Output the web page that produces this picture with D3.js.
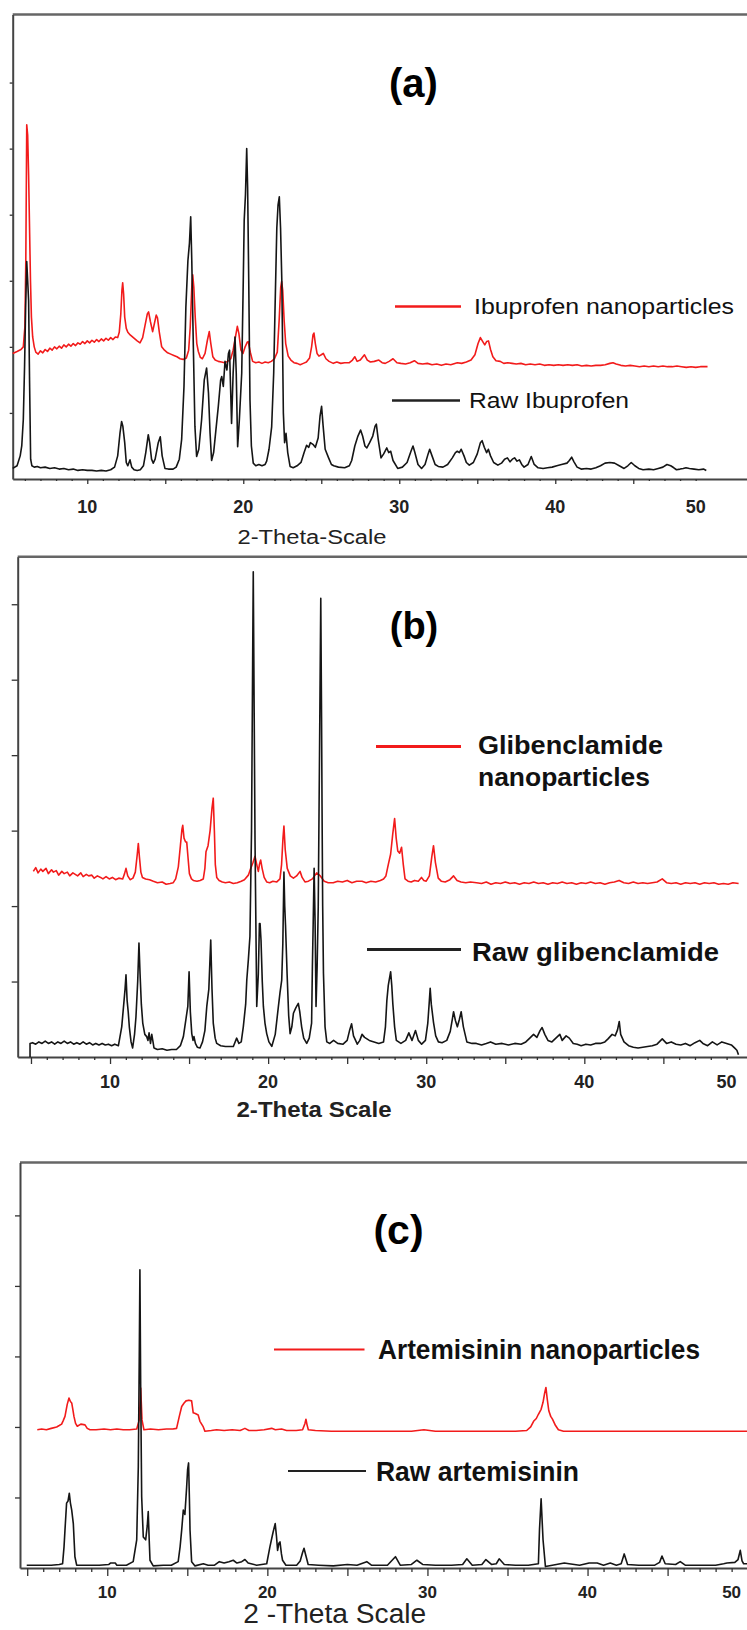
<!DOCTYPE html>
<html>
<head>
<meta charset="utf-8">
<script src="https://cdn.jsdelivr.net/npm/d3@7"></script>
<style>
  body { margin: 0; background: #fff; }
  svg { display: block; }
</style>
</head>
<body>
<div id="chart"></div>
<script>
// ---- data: [2-theta, intensity] (intensity in y-tick units, 100 per tick) ----
var ibuNano = [[5.22,190],[5.5,193],[5.75,196],[5.9,200],[6.0,230],[6.06,330],[6.12,536],[6.18,520],[6.24,460],[6.3,380],[6.36,300],[6.42,245],[6.5,215],[6.6,200],[6.7,192],[6.85,189],[7.0,194],[7.15,191],[7.3,196],[7.45,193],[7.6,198],[7.75,195],[7.9,200],[8.05,197],[8.2,201],[8.35,198],[8.5,203],[8.65,200],[8.8,204],[8.95,201],[9.1,205],[9.25,202],[9.4,206],[9.55,204],[9.7,208],[9.85,205],[10.0,209],[10.15,206],[10.3,210],[10.45,207],[10.6,211],[10.75,208],[10.9,212],[11.05,209],[11.2,213],[11.35,210],[11.5,214],[11.65,211],[11.8,215],[11.95,214],[12.05,222],[12.15,250],[12.22,285],[12.27,297],[12.33,280],[12.4,245],[12.5,228],[12.6,222],[12.75,218],[12.9,215],[13.05,212],[13.2,209],[13.38,206],[13.55,214],[13.7,232],[13.85,250],[13.93,253],[14.05,238],[14.19,223],[14.3,235],[14.42,248],[14.5,244],[14.62,222],[14.77,200],[14.95,195],[15.15,191],[15.35,189],[15.55,187],[15.75,185],[15.95,182],[16.15,181],[16.35,183],[16.5,195],[16.6,230],[16.7,290],[16.76,309],[16.83,290],[16.92,245],[17.02,205],[17.12,193],[17.25,184],[17.38,182],[17.55,190],[17.7,210],[17.82,223],[17.92,205],[18.05,185],[18.2,180],[18.4,178],[18.6,177],[18.8,176],[19.0,178],[19.2,182],[19.35,195],[19.5,215],[19.62,231],[19.72,220],[19.85,195],[19.98,190],[20.12,200],[20.25,207],[20.32,208],[20.45,192],[20.6,178],[20.8,176],[21.0,177],[21.2,175],[21.4,177],[21.6,176],[21.8,178],[22.0,182],[22.18,192],[22.3,240],[22.4,290],[22.46,299],[22.53,285],[22.62,240],[22.72,205],[22.88,186],[23.05,180],[23.25,176],[23.45,175],[23.65,173],[23.85,175],[24.05,177],[24.25,183],[24.38,200],[24.47,218],[24.53,221],[24.62,205],[24.73,190],[24.85,186],[25.0,188],[25.13,190],[25.3,182],[25.5,178],[25.77,175],[26.0,177],[26.25,175],[26.5,176],[26.8,176],[27.0,180],[27.15,185],[27.3,178],[27.5,180],[27.77,188],[27.95,180],[28.15,177],[28.4,178],[28.69,180],[28.9,176],[29.1,175],[29.35,178],[29.6,182],[29.85,176],[30.1,175],[30.4,174],[30.7,176],[30.97,179],[31.2,175],[31.5,174],[31.8,175],[32.1,173],[32.4,174],[32.7,172],[33.0,174],[33.3,173],[33.72,176],[34.0,175],[34.3,177],[34.6,180],[34.85,188],[35.05,205],[35.2,214],[35.35,208],[35.48,203],[35.6,208],[35.72,209],[35.85,196],[36.0,185],[36.2,179],[36.47,178],[36.7,175],[36.95,176],[37.23,175],[37.5,174],[37.8,175],[38.1,173],[38.4,174],[38.7,173],[39.0,174],[39.3,172],[39.6,173],[39.9,172],[40.2,173],[40.5,172],[40.8,173],[41.1,172],[41.4,173],[41.7,171],[42.0,172],[42.3,171],[42.6,172],[42.9,172],[43.2,173],[43.5,175],[43.7,176],[43.9,174],[44.2,172],[44.5,171],[44.8,172],[45.1,171],[45.4,170],[45.7,171],[46.0,170],[46.3,171],[46.6,170],[46.9,171],[47.2,170],[47.5,170],[47.8,171],[48.1,170],[48.4,169],[48.7,170],[49.0,169],[49.3,170],[49.76,170]];

var ibuRaw = [[5.22,16],[5.5,20],[5.7,35],[5.8,50],[5.9,90],[5.98,170],[6.05,260],[6.12,329],[6.18,300],[6.24,270],[6.3,150],[6.37,30],[6.45,20],[6.6,18],[6.8,19],[7.0,17],[7.3,18],[7.6,16],[7.9,17],[8.2,15],[8.5,16],[8.8,14],[9.1,15],[9.4,13],[9.7,14],[10.0,13],[10.3,13],[10.6,12],[10.9,13],[11.2,12],[11.5,14],[11.75,18],[11.95,35],[12.1,70],[12.2,87],[12.28,80],[12.4,55],[12.5,25],[12.6,20],[12.74,29],[12.85,18],[13.0,14],[13.2,13],[13.4,14],[13.6,20],[13.75,40],[13.91,67],[14.0,55],[14.12,30],[14.23,24],[14.35,30],[14.55,55],[14.68,64],[14.8,35],[14.98,16],[15.2,15],[15.5,15],[15.7,18],[15.9,30],[16.05,60],[16.2,140],[16.32,260],[16.45,330],[16.55,357],[16.63,397],[16.7,330],[16.8,200],[16.9,80],[17.01,34],[17.15,45],[17.33,90],[17.5,150],[17.65,168],[17.77,130],[17.87,70],[17.97,28],[18.1,40],[18.25,75],[18.4,110],[18.55,150],[18.62,155],[18.72,140],[18.83,178],[18.95,165],[19.05,190],[19.12,195],[19.25,84],[19.35,160],[19.47,215],[19.55,160],[19.64,49],[19.75,90],[19.9,160],[20.0,300],[20.06,392],[20.14,430],[20.22,500],[20.28,440],[20.35,301],[20.43,120],[20.52,50],[20.64,24],[20.8,20],[21.0,22],[21.2,20],[21.4,22],[21.5,27],[21.65,45],[21.82,79],[21.95,160],[22.03,251],[22.15,380],[22.23,415],[22.31,427],[22.39,380],[22.47,301],[22.57,100],[22.65,55],[22.74,69],[22.85,40],[23.0,19],[23.2,17],[23.45,20],[23.7,25],[23.9,40],[24.06,51],[24.2,48],[24.3,55],[24.49,52],[24.62,48],[24.8,62],[24.92,95],[25.02,110],[25.12,80],[25.25,45],[25.47,32],[25.65,22],[25.8,20],[26.1,18],[26.5,17],[26.8,20],[26.95,28],[27.15,50],[27.35,65],[27.52,74],[27.65,65],[27.8,50],[27.92,47],[28.1,55],[28.3,65],[28.45,80],[28.53,83],[28.65,60],[28.83,32],[29.0,38],[29.2,47],[29.32,40],[29.45,42],[29.6,28],[29.9,16],[30.2,18],[30.5,25],[30.75,42],[30.88,50],[31.0,40],[31.2,22],[31.43,16],[31.65,22],[31.85,38],[31.95,45],[32.1,35],[32.3,22],[32.5,19],[32.8,18],[33.1,22],[33.4,32],[33.6,40],[33.72,42],[33.85,40],[33.97,45],[34.15,35],[34.3,25],[34.49,21],[34.75,25],[35.0,38],[35.2,55],[35.31,58],[35.45,48],[35.6,40],[35.71,45],[35.85,35],[36.05,25],[36.32,21],[36.55,24],[36.75,30],[36.93,32],[37.1,26],[37.25,30],[37.39,32],[37.55,27],[37.7,29],[37.85,22],[38.0,18],[38.25,22],[38.46,34],[38.65,22],[38.9,17],[39.22,16],[39.5,17],[39.8,18],[40.1,20],[40.4,22],[40.75,24],[40.9,28],[41.05,33],[41.2,26],[41.4,18],[41.66,15],[42.0,16],[42.3,15],[42.6,17],[42.9,20],[43.19,24],[43.5,25],[43.8,24],[44.1,20],[44.41,16],[44.65,20],[44.87,25],[45.1,20],[45.35,16],[45.63,14],[46.0,15],[46.3,14],[46.6,16],[46.9,18],[47.16,22],[47.4,20],[47.6,17],[47.77,14],[48.0,15],[48.2,16],[48.38,17],[48.6,16],[48.9,15],[49.2,14],[49.5,15],[49.68,13]];

var gliNano = [[5.15,246],[5.3,251],[5.45,244],[5.62,249],[5.75,246],[5.95,250],[6.1,243],[6.3,248],[6.42,245],[6.6,247],[6.75,241],[6.95,246],[7.1,243],[7.3,245],[7.45,240],[7.65,244],[7.8,242],[7.95,240],[8.15,244],[8.3,239],[8.5,242],[8.65,240],[8.85,241],[9.0,237],[9.2,240],[9.4,238],[9.55,236],[9.75,239],[9.95,236],[10.15,238],[10.35,235],[10.55,237],[10.8,236],[10.92,243],[11.01,250],[11.12,240],[11.27,235],[11.45,237],[11.6,245],[11.72,268],[11.79,283],[11.86,265],[11.95,245],[12.05,238],[12.25,236],[12.5,235],[12.74,233],[13.0,231],[13.3,232],[13.55,229],[13.8,230],[14.0,231],[14.15,236],[14.32,252],[14.45,280],[14.55,302],[14.6,307],[14.68,290],[14.78,285],[14.85,285],[14.93,265],[15.02,243],[15.15,236],[15.27,234],[15.5,233],[15.7,234],[15.9,236],[16.0,250],[16.07,272],[16.2,280],[16.33,300],[16.45,330],[16.53,343],[16.6,300],[16.66,255],[16.75,238],[16.9,234],[17.1,232],[17.3,231],[17.55,232],[17.8,230],[18.05,231],[18.3,233],[18.5,235],[18.75,241],[18.9,250],[19.05,258],[19.17,266],[19.28,255],[19.38,246],[19.45,255],[19.53,261],[19.62,250],[19.75,238],[19.91,232],[20.1,231],[20.3,233],[20.55,232],[20.75,236],[20.85,255],[20.94,290],[21.0,306],[21.08,275],[21.21,250],[21.4,240],[21.6,237],[21.8,240],[22.02,246],[22.15,238],[22.33,232],[22.55,233],[22.8,236],[23.07,244],[23.3,240],[23.55,233],[23.8,231],[24.12,231],[24.4,233],[24.7,232],[25.0,234],[25.3,231],[25.6,233],[25.94,233],[26.2,231],[26.5,233],[26.8,232],[27.1,234],[27.3,236],[27.45,240],[27.6,255],[27.75,269],[27.88,295],[28.0,316],[28.1,290],[28.2,273],[28.32,270],[28.44,278],[28.55,255],[28.66,236],[28.85,233],[29.05,232],[29.26,234],[29.5,233],[29.7,238],[29.85,234],[30.0,233],[30.2,240],[30.35,265],[30.46,280],[30.58,258],[30.76,237],[30.95,233],[31.2,232],[31.5,235],[31.73,240],[31.95,234],[32.2,232],[32.5,231],[32.8,232],[33.18,231],[33.5,230],[33.8,232],[34.1,229],[34.4,231],[34.7,230],[35.0,232],[35.3,230],[35.6,231],[35.9,229],[36.2,231],[36.5,230],[36.8,232],[37.1,230],[37.4,231],[37.7,229],[38.0,231],[38.3,230],[38.6,232],[38.9,230],[39.2,231],[39.5,229],[39.8,231],[40.1,230],[40.4,232],[40.7,230],[41.0,231],[41.3,229],[41.6,231],[41.9,232],[42.2,234],[42.5,231],[42.8,230],[43.1,232],[43.4,230],[43.7,231],[44.0,230],[44.3,231],[44.6,232],[44.93,236],[45.2,231],[45.5,230],[45.8,231],[46.1,229],[46.4,231],[46.7,230],[47.0,231],[47.3,229],[47.6,231],[47.9,230],[48.2,231],[48.5,229],[48.8,230],[49.1,229],[49.4,231],[49.76,230]];

var gliRaw = [[4.94,0],[4.94,18],[5.1,19],[5.3,17],[5.5,20],[5.7,18],[5.9,21],[6.1,18],[6.3,20],[6.5,17],[6.7,20],[6.9,18],[7.1,21],[7.3,18],[7.5,20],[7.7,17],[7.9,19],[8.1,17],[8.3,20],[8.5,17],[8.7,19],[8.9,16],[9.1,18],[9.3,16],[9.5,18],[9.7,16],[9.9,17],[10.1,15],[10.3,17],[10.53,15],[10.74,40],[10.88,73],[10.95,90],[11.01,109],[11.08,75],[11.15,60],[11.22,40],[11.33,20],[11.43,12],[11.55,30],[11.64,53],[11.75,100],[11.83,151],[11.9,110],[11.98,70],[12.07,45],[12.2,30],[12.32,27],[12.4,22],[12.47,32],[12.56,18],[12.64,30],[12.72,20],[12.78,12],[13.0,10],[13.3,11],[13.6,9],[13.9,10],[14.2,10],[14.45,15],[14.64,27],[14.8,50],[14.92,67],[15.0,113],[15.08,60],[15.17,31],[15.25,22],[15.31,27],[15.4,18],[15.52,13],[15.69,12],[15.85,20],[16.0,35],[16.12,67],[16.25,90],[16.37,155],[16.45,90],[16.53,45],[16.65,25],[16.75,18],[17.0,15],[17.3,14],[17.6,14],[17.8,14],[18.01,25],[18.15,18],[18.3,20],[18.43,40],[18.58,70],[18.65,102],[18.75,129],[18.85,160],[18.95,300],[19.02,520],[19.06,643],[19.12,450],[19.17,288],[19.28,67],[19.38,110],[19.45,177],[19.49,177],[19.55,155],[19.63,100],[19.7,67],[19.8,45],[19.91,31],[20.05,20],[20.23,14],[20.45,30],[20.65,67],[20.75,85],[20.86,102],[20.93,150],[21.0,245],[21.05,200],[21.1,175],[21.2,110],[21.3,55],[21.39,31],[21.5,40],[21.6,58],[21.75,65],[21.91,71],[22.0,60],[22.12,40],[22.25,25],[22.44,18],[22.6,25],[22.75,45],[22.8,120],[22.85,177],[22.91,250],[22.97,180],[23.03,67],[23.1,120],[23.17,199],[23.25,400],[23.33,608],[23.38,450],[23.41,332],[23.45,200],[23.5,111],[23.6,40],[23.71,20],[23.9,18],[24.14,22],[24.4,18],[24.74,17],[25.0,22],[25.15,35],[25.28,44],[25.4,28],[25.64,17],[25.8,22],[25.94,30],[26.1,26],[26.4,22],[26.7,20],[27.0,18],[27.3,20],[27.42,40],[27.51,75],[27.6,95],[27.75,113],[27.82,95],[27.89,70],[28.0,40],[28.11,22],[28.4,18],[28.7,22],[28.9,32],[29.1,22],[29.32,35],[29.5,22],[29.71,17],[29.95,22],[30.1,45],[30.2,75],[30.25,91],[30.32,70],[30.46,46],[30.6,28],[30.77,20],[31.0,19],[31.3,22],[31.52,34],[31.65,50],[31.73,60],[31.85,48],[31.97,40],[32.1,50],[32.21,60],[32.35,40],[32.57,20],[32.9,18],[33.17,18],[33.5,16],[33.8,18],[34.07,20],[34.4,17],[34.8,18],[35.2,16],[35.6,18],[36.0,17],[36.3,20],[36.55,25],[36.79,30],[37.0,26],[37.2,35],[37.33,39],[37.5,30],[37.7,22],[37.95,20],[38.2,25],[38.45,30],[38.6,22],[38.85,28],[39.05,25],[39.3,18],[39.55,17],[39.8,15],[40.1,17],[40.4,16],[40.7,18],[41.01,18],[41.3,20],[41.5,24],[41.76,30],[41.95,28],[42.1,36],[42.21,47],[42.3,30],[42.51,20],[42.8,15],[43.1,13],[43.4,12],[43.7,13],[44.0,14],[44.3,15],[44.6,17],[44.93,24],[45.2,18],[45.5,20],[45.8,17],[46.1,16],[46.4,18],[46.7,15],[47.0,19],[47.3,22],[47.5,18],[47.8,15],[48.1,20],[48.4,16],[48.7,20],[49.0,18],[49.3,16],[49.5,12],[49.65,9],[49.75,3]];

var artNano = [[5.63,196],[5.9,197],[6.2,196],[6.5,198],[6.84,200],[7.0,202],[7.15,204],[7.25,209],[7.36,215],[7.5,232],[7.61,241],[7.7,236],[7.78,234],[7.85,225],[7.92,215],[8.02,205],[8.13,201],[8.35,204],[8.61,203],[8.75,198],[8.92,196],[9.3,196],[9.8,197],[10.2,196],[10.6,197],[11.0,196],[11.4,196],[11.84,197],[12.0,210],[12.09,255],[12.17,210],[12.29,196],[12.7,197],[13.2,196],[13.7,197],[14.1,197],[14.33,198],[14.5,215],[14.65,229],[14.8,234],[14.92,237],[15.1,238],[15.27,237],[15.37,220],[15.5,219],[15.68,217],[15.79,208],[16.0,200],[16.1,194],[16.5,195],[16.83,196],[17.3,195],[17.8,196],[18.3,195],[18.6,198],[18.85,195],[19.3,195],[19.8,196],[20.27,198],[20.5,196],[20.89,197],[21.2,195],[21.8,195],[22.2,196],[22.35,205],[22.41,211],[22.48,203],[22.56,196],[23.0,195],[24.0,194],[25.0,194],[26.0,194],[27.0,194],[28.0,194],[29.0,194],[29.78,196],[30.5,194],[31.5,194],[32.5,194],[33.5,194],[34.5,194],[35.5,194],[36.2,195],[36.45,200],[36.63,208],[36.8,212],[36.93,218],[37.1,225],[37.22,235],[37.32,248],[37.4,256],[37.48,240],[37.58,223],[37.7,215],[37.81,211],[38.0,202],[38.18,196],[38.5,194],[39.5,194],[40.5,194],[41.5,194],[42.5,194],[43.5,194],[44.5,194],[45.5,194],[46.5,194],[47.5,194],[48.5,194],[49.5,194],[50.0,194]];

var artRaw = [[4.97,4],[5.5,4],[6.0,4],[6.5,4],[7.0,5],[7.21,6],[7.3,30],[7.36,54],[7.46,92],[7.55,95],[7.63,106],[7.7,92],[7.78,82],[7.88,63],[7.98,16],[8.09,4],[8.5,4],[9.0,4],[9.5,4],[10.1,5],[10.2,7],[10.5,7],[10.6,4],[11.2,4],[11.62,9],[11.84,40],[11.94,144],[12.0,300],[12.04,423],[12.09,250],[12.15,101],[12.25,44],[12.4,40],[12.5,60],[12.56,80],[12.62,40],[12.67,11],[12.87,3],[13.5,4],[14.0,4],[14.43,9],[14.55,30],[14.65,54],[14.75,82],[14.85,76],[14.96,115],[15.02,140],[15.08,149],[15.13,100],[15.17,54],[15.27,9],[15.48,3],[16.0,6],[16.3,4],[16.7,4],[17.0,9],[17.3,7],[17.6,9],[17.87,11],[18.1,7],[18.4,9],[18.6,12],[18.8,7],[19.33,4],[19.96,6],[20.16,30],[20.35,50],[20.49,63],[20.57,45],[20.64,25],[20.72,35],[20.79,37],[20.88,20],[20.95,11],[21.16,4],[21.83,4],[22.05,10],[22.2,22],[22.29,28],[22.4,18],[22.55,5],[23.2,4],[24.12,3],[25.0,5],[25.6,4],[26.21,9],[26.5,4],[27.5,4],[28.0,16],[28.3,4],[29.0,5],[29.34,11],[29.7,5],[30.5,4],[31.5,4],[32.2,5],[32.46,13],[32.8,4],[33.4,5],[33.65,12],[34.0,5],[34.3,6],[34.48,13],[34.8,5],[35.5,4],[36.3,4],[36.93,6],[37.0,55],[37.1,98],[37.22,40],[37.37,2],[37.8,4],[38.3,6],[38.55,7],[38.85,6],[39.5,4],[40.1,7],[40.35,7],[40.6,7],[41.0,4],[41.42,7],[41.8,4],[42.1,6],[42.29,20],[42.5,5],[43.2,4],[44.2,4],[44.5,8],[44.65,17],[44.85,6],[45.5,5],[45.79,9],[46.1,4],[47.0,4],[48.0,4],[48.5,6],[48.71,7],[49.2,8],[49.4,12],[49.54,25],[49.65,10],[49.75,6],[50.0,6]];

// tick labels (the "50" label sits over the 49 tick in the original)
var xTickLabels = ["10", "20", "30", "40", "50"];
var xTickLabelAt = [10, 20, 30, 40, 49];
var yTicksAB = [100, 200, 300, 400, 500, 600];
var yTicksC = [100, 200, 300, 400, 500];

var panelTitles = ["(a)", "(b)", "(c)"];
var axisTitles = ["2-Theta-Scale", "2-Theta Scale", "2 -Theta Scale"];
var nanoNames = [["Ibuprofen nanoparticles"], ["Glibenclamide", "nanoparticles"], ["Artemisinin nanoparticles"]];
var rawNames = ["Raw Ibuprofen", "Raw glibenclamide", "Raw artemisinin"];

var W = 747, H = 1630;
var FONT = "'Liberation Sans', Arial, Helvetica, sans-serif";
var NARROW = "'Liberation Sans Narrow', 'Arial Narrow', 'Liberation Sans', Arial, sans-serif";

var svg = d3.select("#chart").append("svg")
  .attr("width", W)
  .attr("height", H);

// layout for each panel
var panels = [
  { nano: ibuNano, raw: ibuRaw, yTicks: yTicksAB,
    xd: [5.22, 52.29], xr: [12.7, 747], yd: [0, 703], yr: [479, 14.5],
    ticks: d3.range(6, 50), minorLen: 2, majorLen: 5, yTickLen: 3,
    title: { x: 413.5, y: 97, size: 40 },
    tickY: 513, tickSize: 18,
    axisTitle: { x: 312, y: 544, size: 20, len: 149, weight: "normal", font: FONT },
    legendFont: FONT, legendWeight: "normal",
    nanoLine: [395, 461, 306.5], nanoText: [{ x: 474, y: 314, size: 22, len: 260 }],
    rawLine: [392, 460, 400.5], rawText: { x: 469, y: 408, size: 22, len: 160 },
    legendStroke: 2.5 },
  { nano: gliNano, raw: gliRaw, yTicks: yTicksAB,
    xd: [4.16, 50.29], xr: [17.7, 747], yd: [0, 663], yr: [1057, 556.7],
    ticks: d3.range(5, 50), minorLen: 3, majorLen: 7, yTickLen: 6,
    title: { x: 414, y: 639, size: 38 },
    tickY: 1088, tickSize: 18,
    axisTitle: { x: 314, y: 1117, size: 22, len: 155, weight: "bold", font: NARROW },
    legendFont: NARROW, legendWeight: "bold",
    nanoLine: [376, 461, 746.4],
    nanoText: [{ x: 478, y: 754, size: 25, len: 185 }, { x: 478, y: 786, size: 25, len: 172 }],
    rawLine: [367, 461, 949.6], rawText: { x: 472, y: 961, size: 25, len: 247 },
    legendStroke: 3 },
  { nano: artNano, raw: artRaw, yTicks: yTicksC,
    xd: [4.55, 49.96], xr: [20, 747], yd: [0, 575], yr: [1568, 1162.5],
    ticks: d3.range(5, 50), minorLen: 4, majorLen: 8, yTickLen: 5,
    title: { x: 398.5, y: 1243.5, size: 41 },
    tickY: 1598, tickSize: 17,
    axisTitle: { x: 334.7, y: 1623, size: 27, len: 183, weight: "normal", font: NARROW },
    legendFont: NARROW, legendWeight: "bold",
    nanoLine: [274, 364.5, 1349.5], nanoText: [{ x: 378, y: 1358.6, size: 28, len: 322 }],
    rawLine: [288, 366, 1471], rawText: { x: 376, y: 1481, size: 28, len: 203 },
    legendStroke: 2 }
];

panels.forEach(function (p, i) {
  var g = svg.append("g");
  var x = d3.scaleLinear().domain(p.xd).range(p.xr);
  var y = d3.scaleLinear().domain(p.yd).range(p.yr);

  // top frame line
  g.append("line")
    .attr("x1", p.xr[0]).attr("x2", W)
    .attr("y1", p.yr[1]).attr("y2", p.yr[1])
    .attr("stroke", "#666").attr("stroke-width", 2.5);

  // bottom axis: minor ticks every degree, longer ticks every 5
  var minor = p.ticks.filter(function (t) { return t % 5 !== 0; });
  var major = p.ticks.filter(function (t) { return t % 5 === 0; });

  g.append("g")
    .attr("transform", "translate(0," + p.yr[0] + ")")
    .call(d3.axisBottom(x).tickValues(minor).tickSize(p.minorLen).tickSizeOuter(0).tickFormat(""));
  g.append("g")
    .attr("transform", "translate(0," + p.yr[0] + ")")
    .call(d3.axisBottom(x).tickValues(major).tickSize(p.majorLen).tickSizeOuter(0).tickFormat(""))
    .select(".domain").remove();

  // left axis
  g.append("g")
    .attr("transform", "translate(" + p.xr[0] + ",0)")
    .call(d3.axisLeft(y).tickValues(p.yTicks).tickSize(p.yTickLen).tickSizeOuter(0).tickFormat(""));

  g.selectAll(".domain").attr("stroke", "#444").attr("stroke-width", 2);
  g.selectAll(".tick line").attr("stroke", "#333").attr("stroke-width", 1.3);

  // tick labels
  g.selectAll("text.xlab")
    .data(xTickLabels)
    .enter()
    .append("text")
    .attr("class", "xlab")
    .attr("x", function (d, j) { return x(xTickLabelAt[j]); })
    .attr("y", p.tickY)
    .attr("text-anchor", "middle")
    .style("font-family", FONT)
    .style("font-weight", "bold")
    .style("font-size", p.tickSize + "px")
    .attr("fill", "#222")
    .text(function (d) { return d; });

  // axis title
  g.append("text")
    .attr("x", p.axisTitle.x)
    .attr("y", p.axisTitle.y)
    .attr("text-anchor", "middle")
    .attr("textLength", p.axisTitle.len)
    .attr("lengthAdjust", "spacingAndGlyphs")
    .style("font-family", p.axisTitle.font)
    .style("font-weight", p.axisTitle.weight)
    .style("font-size", p.axisTitle.size + "px")
    .attr("fill", "#222")
    .text(axisTitles[i]);

  // series
  var line = d3.line()
    .x(function (d) { return x(d[0]); })
    .y(function (d) { return y(d[1]); });

  g.append("path")
    .datum(p.nano)
    .attr("d", line)
    .attr("fill", "none")
    .attr("stroke", "#f21b1b")
    .attr("stroke-width", 1.6)
    .attr("stroke-linejoin", "round");

  g.append("path")
    .datum(p.raw)
    .attr("d", line)
    .attr("fill", "none")
    .attr("stroke", "#151515")
    .attr("stroke-width", 1.6)
    .attr("stroke-linejoin", "round");

  // panel letter
  g.append("text")
    .attr("x", p.title.x)
    .attr("y", p.title.y)
    .attr("text-anchor", "middle")
    .style("font-family", FONT)
    .style("font-weight", "bold")
    .style("font-size", p.title.size + "px")
    .attr("fill", "#000")
    .text(panelTitles[i]);

  // legend
  g.append("line")
    .attr("x1", p.nanoLine[0]).attr("x2", p.nanoLine[1])
    .attr("y1", p.nanoLine[2]).attr("y2", p.nanoLine[2])
    .attr("stroke", "#f21b1b").attr("stroke-width", p.legendStroke);
  g.append("line")
    .attr("x1", p.rawLine[0]).attr("x2", p.rawLine[1])
    .attr("y1", p.rawLine[2]).attr("y2", p.rawLine[2])
    .attr("stroke", "#222").attr("stroke-width", p.legendStroke);

  nanoNames[i].forEach(function (name, k) {
    var t = p.nanoText[k];
    g.append("text")
      .attr("x", t.x).attr("y", t.y)
      .attr("textLength", t.len)
      .attr("lengthAdjust", "spacingAndGlyphs")
      .style("font-family", p.legendFont)
      .style("font-weight", p.legendWeight)
      .style("font-size", t.size + "px")
      .attr("fill", "#111")
      .text(name);
  });

  g.append("text")
    .attr("x", p.rawText.x).attr("y", p.rawText.y)
    .attr("textLength", p.rawText.len)
    .attr("lengthAdjust", "spacingAndGlyphs")
    .style("font-family", p.legendFont)
    .style("font-weight", p.legendWeight)
    .style("font-size", p.rawText.size + "px")
    .attr("fill", "#111")
    .text(rawNames[i]);
});
</script>
</body>
</html>
